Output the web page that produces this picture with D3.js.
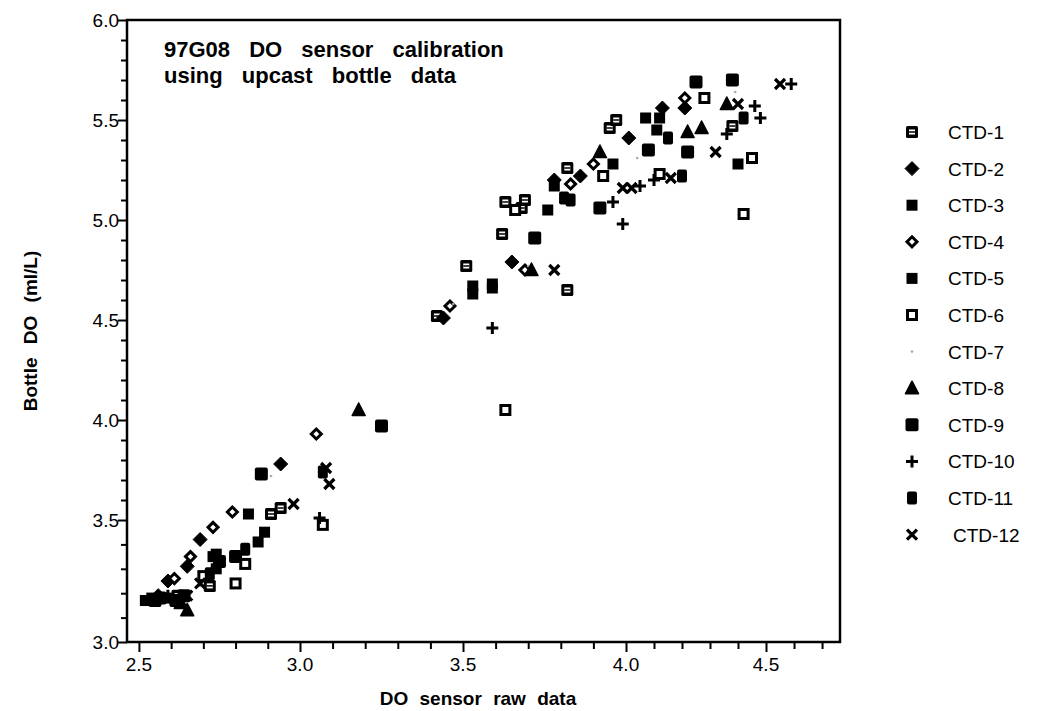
<!DOCTYPE html>
<html>
<head>
<meta charset="utf-8">
<script src="https://cdn.jsdelivr.net/npm/d3@7"></script>
<style>
  body { margin: 0; background: white; }
  svg { font-family: "Liberation Sans", Arial, sans-serif; }
</style>
</head>
<body>
<svg id="chart" width="1041" height="711"></svg>
<script>

// readings from the scan, [raw sensor, bottle DO]
var ctd1  = [[3.42,4.52],[3.51,4.77],[3.62,4.93],[3.63,5.09],[3.68,5.06],[3.69,5.10],[3.82,5.26],[3.82,4.65],[3.95,5.46],[3.97,5.50],[4.38,5.47],[2.91,3.53],[2.94,3.56],[2.72,3.23],[2.62,3.19]];
var ctd2  = [[3.44,4.51],[3.65,4.79],[3.78,5.20],[3.86,5.22],[4.01,5.41],[4.13,5.56],[4.21,5.56],[2.94,3.78],[2.69,3.42],[2.59,3.25],[2.65,3.31],[2.56,3.19]];
var ctd3  = [[3.53,4.63],[3.53,4.67],[3.76,5.05],[4.07,5.51],[4.11,5.45],[2.84,3.53],[2.73,3.35],[2.74,3.36],[2.54,3.18],[2.59,3.18],[2.52,3.17]];
var ctd4  = [[3.46,4.57],[3.69,4.75],[3.83,5.18],[3.90,5.28],[4.21,5.61],[3.05,3.93],[2.79,3.54],[2.73,3.47],[2.66,3.35],[2.61,3.26]];
var ctd5  = [[3.59,4.66],[3.59,4.68],[3.78,5.17],[3.96,5.28],[4.12,5.51],[4.40,5.28],[2.74,3.30],[2.87,3.41],[2.89,3.45],[2.62,3.17]];
var ctd6  = [[3.63,4.05],[3.66,5.05],[3.93,5.22],[4.28,5.61],[4.45,5.31],[4.42,5.03],[4.12,5.23],[3.07,3.48],[2.83,3.32],[2.80,3.24],[2.70,3.27]];
var ctd7  = [[3.47,4.58],[4.04,5.31],[4.39,5.64],[2.91,3.72],[2.69,3.23],[3.70,4.77]];
var ctd8  = [[3.71,4.75],[3.92,5.34],[4.22,5.44],[4.27,5.46],[4.36,5.58],[3.18,4.05],[2.65,3.13],[2.63,3.16]];
var ctd9  = [[3.72,4.91],[3.92,5.06],[4.08,5.35],[4.22,5.34],[4.25,5.69],[4.38,5.70],[3.25,3.97],[2.88,3.73],[2.80,3.35],[2.75,3.33],[2.64,3.19],[2.55,3.17]];
var ctd10 = [[3.59,4.46],[3.96,5.09],[3.99,4.98],[4.05,5.17],[4.10,5.20],[4.36,5.43],[4.46,5.57],[4.48,5.51],[4.59,5.68],[3.06,3.51],[2.59,3.19]];
var ctd11 = [[3.81,5.11],[3.83,5.10],[4.15,5.41],[4.20,5.22],[4.42,5.51],[3.07,3.74],[2.83,3.38],[2.72,3.28],[2.57,3.18],[2.61,3.17]];
var ctd12 = [[3.78,4.75],[3.99,5.16],[4.02,5.16],[4.16,5.21],[4.32,5.34],[4.40,5.58],[4.55,5.68],[2.98,3.58],[3.09,3.68],[3.08,3.76],[2.69,3.24],[2.65,3.19]];

var seriesNames = ["CTD-1","CTD-2","CTD-3","CTD-4","CTD-5","CTD-6","CTD-7","CTD-8","CTD-9","CTD-10","CTD-11","CTD-12"];
var seriesValues = [ctd1, ctd2, ctd3, ctd4, ctd5, ctd6, ctd7, ctd8, ctd9, ctd10, ctd11, ctd12];
var markerTypes = ["lined", "diamond", "square", "opendiamond", "square", "opensquare", "dot", "triangle", "bigsquare", "plus", "tallsquare", "cross"];

var xTicks = [2.5, 3.0, 3.5, 4.0, 4.5];
var yTicks = [3.0, 3.5, 4.0, 4.5, 5.0, 5.5, 6.0];

var titleLines = ["97G08 DO sensor calibration", "using upcast bottle data"];
var xTitle = "DO sensor raw data";
var yTitle = "Bottle DO (ml/L)";

var svg = d3.select("#chart");
var plotLeft = 127, plotRight = 840, plotTop = 20, plotBottom = 642;

// the scanned axes are not quite even, so the scales follow the printed tick positions
var x = d3.scaleLinear().domain([2.463, 3.0, 4.0, 4.5, 4.764]).range([plotLeft, 300, 626, 766, plotRight]);
var y = d3.scaleLinear().domain([3, 3.5, 6]).range([plotBottom, 520, plotTop]);

// minor ticks every 0.1
var xAxis = d3.axisBottom(x).tickValues(d3.range(25, 48).map(d => d / 10)).tickSize(7).tickFormat("");
var yAxis = d3.axisLeft(y).tickValues(d3.range(30, 61).map(d => d / 10)).tickSize(6).tickFormat("");

var gx = svg.append("g").attr("transform", `translate(0,${plotBottom})`).call(xAxis);
var gy = svg.append("g").attr("transform", `translate(${plotLeft},0)`).call(yAxis);
[gx, gy].forEach(g => {
  g.select(".domain").remove();
  g.selectAll("line").attr("stroke", "black").attr("stroke-width", 2);
});
gx.selectAll(".tick line").filter(d => Math.abs(d * 2 - Math.round(d * 2)) < 1e-6).attr("y2", 10);
gy.selectAll(".tick line").filter(d => Math.abs(d * 2 - Math.round(d * 2)) < 1e-6).attr("x2", -9);

svg.append("rect")
  .attr("x", plotLeft).attr("y", plotTop)
  .attr("width", plotRight - plotLeft).attr("height", plotBottom - plotTop)
  .attr("fill", "none").attr("stroke", "black").attr("stroke-width", 2.5);

svg.selectAll(".xlab")
  .data(xTicks)
  .enter()
  .append("text")
  .attr("x", d => x(d))
  .attr("y", plotBottom + 29)
  .attr("text-anchor", "middle")
  .style("font-size", "19px")
  .text(d => d.toFixed(1));

svg.selectAll(".ylab")
  .data(yTicks)
  .enter()
  .append("text")
  .attr("x", plotLeft - 8)
  .attr("y", d => y(d) + 7)
  .attr("text-anchor", "end")
  .style("font-size", "19px")
  .text(d => d.toFixed(1));

svg.append("text")
  .attr("x", 478)
  .attr("y", 705)
  .attr("text-anchor", "middle")
  .style("font-size", "19px").style("font-weight", "bold").style("word-spacing", "6px")
  .text(xTitle);

svg.append("text")
  .attr("transform", `translate(37,${(plotTop + plotBottom) / 2}) rotate(-90)`)
  .attr("text-anchor", "middle")
  .style("font-size", "19px").style("font-weight", "bold").style("word-spacing", "8px")
  .text(yTitle);

svg.selectAll(".title")
  .data(titleLines)
  .enter()
  .append("text")
  .attr("x", 164)
  .attr("y", (d, i) => 57 + i * 26)
  .style("font-size", "22px").style("font-weight", "bold").style("word-spacing", "13px")
  .text(d => d);

// draw one marker of the given kind centred on (cx, cy)
function marker(g, kind, cx, cy) {
  var m = g.append("g").attr("transform", `translate(${cx},${cy})`);
  if (kind === "lined") {
    m.append("rect").attr("x", -6).attr("y", -6).attr("width", 12).attr("height", 12).attr("rx", 1.5).attr("fill", "black");
    m.append("rect").attr("x", -3).attr("y", -2.5).attr("width", 6).attr("height", 5).attr("fill", "white");
    m.append("line").attr("x1", -3).attr("x2", 3).attr("y1", 0).attr("y2", 0).attr("stroke", "black").attr("stroke-width", 1.5);
  } else if (kind === "diamond") {
    m.append("path").attr("d", "M0,-7L7,0L0,7L-7,0Z").attr("fill", "black").attr("stroke", "black").attr("stroke-linejoin", "round");
  } else if (kind === "square") {
    m.append("rect").attr("x", -5.5).attr("y", -5.5).attr("width", 11).attr("height", 11).attr("fill", "black");
  } else if (kind === "bigsquare") {
    m.append("rect").attr("x", -6.5).attr("y", -6.5).attr("width", 13).attr("height", 13).attr("rx", 2).attr("fill", "black");
  } else if (kind === "tallsquare") {
    m.append("rect").attr("x", -5).attr("y", -6.5).attr("width", 10).attr("height", 13).attr("rx", 2).attr("fill", "black");
  } else if (kind === "opendiamond") {
    m.append("path").attr("d", "M0,-5L5,0L0,5L-5,0Z").attr("fill", "white").attr("stroke", "black").attr("stroke-width", 3);
  } else if (kind === "opensquare") {
    m.append("rect").attr("x", -4.5).attr("y", -4.5).attr("width", 9).attr("height", 9).attr("fill", "white").attr("stroke", "black").attr("stroke-width", 3);
  } else if (kind === "dot") {
    m.append("circle").attr("r", 1.3).attr("fill", "#aaa");
  } else if (kind === "triangle") {
    m.append("path").attr("d", "M0,-7L6.5,5.5L-6.5,5.5Z").attr("fill", "black").attr("stroke", "black").attr("stroke-linejoin", "round").attr("stroke-width", 1.5);
  } else if (kind === "plus") {
    m.append("path").attr("d", "M-6,0H6M0,-6V6").attr("stroke", "black").attr("stroke-width", 3);
  } else if (kind === "cross") {
    m.append("path").attr("d", "M-5,-5L5,5M5,-5L-5,5").attr("stroke", "black").attr("stroke-width", 3.2);
  }
}

var points = svg.append("g");
seriesValues.forEach((vals, i) => {
  var g = points.append("g").attr("class", "series").attr("name", seriesNames[i]);
  vals.forEach(d => marker(g, markerTypes[i], x(d[0]), y(d[1])));
});

// legend
var legend = svg.append("g").attr("class", "legend");
seriesNames.forEach((name, i) => {
  var ly = 132 + i * 36.6;
  marker(legend, markerTypes[i], 912, ly);
  legend.append("text")
    .attr("x", i === 11 ? 953 : 948)
    .attr("y", ly + 7)
    .style("font-size", "19px")
    .text(name);
});

</script>
</body>
</html>
